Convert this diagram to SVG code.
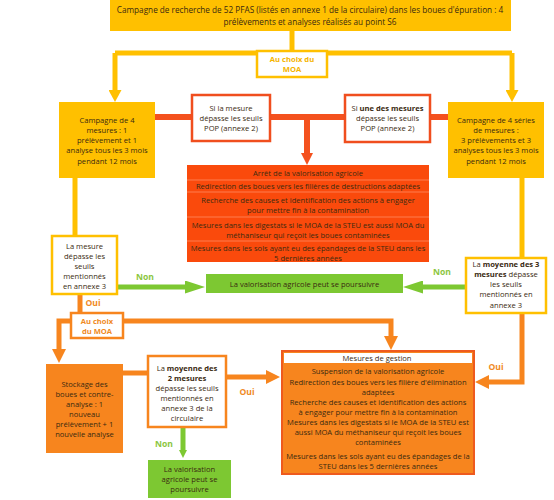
<svg xmlns="http://www.w3.org/2000/svg" width="554" height="500" viewBox="0 0 554 500">
<style>
text{font-family:"Open Sans","Noto Sans",sans-serif;font-size:7.6px;fill:#3a2a10;text-anchor:middle}
.b{font-weight:bold}
.t{font-size:8.2px}
.gold{fill:#FFC000}
.redf{fill:#FA4A0C}
.orf{fill:#F7851E}
.grf{fill:#7DC832}
.wg{fill:#fff;stroke:#FFC000;stroke-width:2.5}
.wr{fill:#fff;stroke:#F04E1E;stroke-width:2.5}
.wo{fill:#fff;stroke:#F7851E;stroke-width:2.5}
.lg{fill:#F5B400;font-weight:bold}
.lo{fill:#F08A24;font-weight:bold}
.ln{fill:#8CC63F;font-weight:bold}
.lab{font-size:8.6px}
.cg{fill:none;stroke:#FFC000;stroke-width:5}
.cr{fill:none;stroke:#F4511E;stroke-width:6}
.co{fill:none;stroke:#F7851E;stroke-width:5}
.cn{fill:none;stroke:#7DC832;stroke-width:5}
.sep{stroke:#FF8A60;stroke-width:0.8}
</style>
<defs>
<marker id="ag" viewBox="0 0 12 13" markerWidth="12" markerHeight="13" markerUnits="userSpaceOnUse" refX="1" refY="6.5" orient="auto"><path d="M0,0 L12,6.5 L0,13 z" fill="#FFC000"/></marker>
<marker id="ar" viewBox="0 0 12 12" markerWidth="12" markerHeight="12" markerUnits="userSpaceOnUse" refX="1" refY="6" orient="auto"><path d="M0,0 L12,6 L0,12 z" fill="#F4511E"/></marker>
<marker id="ao" viewBox="0 0 14 14" markerWidth="14" markerHeight="14" markerUnits="userSpaceOnUse" refX="1" refY="7" orient="auto"><path d="M0,0 L14,7 L0,14 z" fill="#F7851E"/></marker>
<marker id="an" viewBox="0 0 20 13" markerWidth="20" markerHeight="13" markerUnits="userSpaceOnUse" refX="1" refY="6.5" orient="auto"><path d="M0,0 L20,6.5 L0,13 z" fill="#7DC832"/></marker>
<marker id="ans" viewBox="0 0 8 8" markerWidth="8" markerHeight="8" markerUnits="userSpaceOnUse" refX="1" refY="4" orient="auto"><path d="M0,0 L8,4 L0,8 z" fill="#7DC832"/></marker>
</defs>

<g id="connectors">
<path class="cg" d="M292,31 V53"/>
<path class="cg" d="M115,53 H512"/>
<path class="cg" d="M115,53 V91" marker-end="url(#ag)"/>
<path class="cg" d="M512,53 V91" marker-end="url(#ag)"/>
<path class="cg" d="M75,178 V236"/>
<path class="cg" d="M522,178 V258"/>
<path class="cr" d="M155,117 H192"/>
<path class="cr" d="M270,117 H345"/>
<path class="cr" d="M430,117 H448"/>
<path class="cr" d="M307,117 V154" marker-end="url(#ar)"/>
<path class="cn" d="M117,287 H186" marker-end="url(#an)"/>
<path class="cn" d="M466,287 H422" marker-end="url(#an)"/>
<path class="cn" d="M183,427 V451" stroke-width="4" marker-end="url(#ans)"/>
<path class="co" d="M80,294 V313"/>
<path class="co" d="M71,321 H59 V350" marker-end="url(#ao)"/>
<path class="co" d="M123,321 H391 V337" marker-end="url(#ao)"/>
<path class="co" d="M123,373 H148"/>
<path class="co" d="M226,377 H267" marker-end="url(#ao)"/>
<path class="co" d="M522,313 V382 H488" marker-end="url(#ao)"/>
<text class="ln lab" x="145" y="280">Non</text>
<text class="ln lab" x="442" y="275">Non</text>
<text class="ln lab" x="164" y="447">Non</text>
<text class="lo lab" x="93" y="306">Oui</text>
<text class="lo lab" x="247" y="395">Oui</text>
<text class="lo lab" x="496" y="370">Oui</text>
</g>

<g id="top">
<rect class="gold" x="110" y="0" width="401" height="31"/>
<text class="t" x="310" y="13">Campagne de recherche de 52 PFAS (listés en annexe 1 de la circulaire) dans les boues d'épuration : 4</text>
<text class="t" x="310" y="25">prélèvements et analyses réalisés au point S6</text>
</g>

<g id="choix1">
<rect class="wg" x="257" y="51" width="70" height="26"/>
<text class="lg" x="292" y="62">Au choix du</text>
<text class="lg" x="292" y="72">MOA</text>
</g>

<g id="campagne4">
<rect class="gold" x="59" y="102" width="96" height="76"/>
<text x="107" y="123">Campagne de 4</text>
<text x="107" y="133">mesures : 1</text>
<text x="107" y="143">prélèvement et 1</text>
<text x="107" y="153">analyse tous les 3 mois</text>
<text x="107" y="164">pendant 12 mois</text>
</g>

<g id="campagne4series">
<rect class="gold" x="448" y="102" width="96" height="76"/>
<text x="496" y="123">Campagne de 4 séries</text>
<text x="496" y="133">de mesures :</text>
<text x="496" y="143">3 prélèvements et 3</text>
<text x="496" y="153">analyses tous les 3 mois</text>
<text x="496" y="164">pendant 12 mois</text>
</g>

<g id="pop1">
<rect class="wr" x="192" y="95" width="78" height="46"/>
<text x="231" y="111">Si la mesure</text>
<text x="231" y="121">dépasse les seuils</text>
<text x="231" y="131">POP (annexe 2)</text>
</g>

<g id="pop2">
<rect class="wr" x="345" y="95" width="85" height="47"/>
<text x="387.5" y="111">Si <tspan class="b">une des mesures</tspan></text>
<text x="387.5" y="121">dépasse les seuils</text>
<text x="387.5" y="131">POP (annexe 2)</text>
</g>

<g id="arret">
<rect class="redf" x="187" y="165" width="242" height="97"/>
<line class="sep" x1="187" y1="180" x2="429" y2="180"/>
<line class="sep" x1="187" y1="192" x2="429" y2="192"/>
<line class="sep" x1="187" y1="217" x2="429" y2="217"/>
<line class="sep" x1="187" y1="241" x2="429" y2="241"/>
<text x="308" y="176">Arrêt de la valorisation agricole</text>
<text x="308" y="189">Redirection des boues vers les filières de destructions adaptées</text>
<text x="308" y="203">Recherche des causes et identification des actions à engager</text>
<text x="308" y="213">pour mettre fin à la contamination</text>
<text x="308" y="228">Mesures dans les digestats si le MOA de la STEU est aussi MOA du</text>
<text x="308" y="238">méthaniseur qui reçoit les boues contaminées</text>
<text x="308" y="251">Mesures dans les sols ayant eu des épandages de la STEU dans les</text>
<text x="308" y="261">5 dernières années</text>
</g>

<g id="seuil1">
<rect class="wg" x="52" y="236" width="65" height="58"/>
<text x="84.5" y="249">La mesure</text>
<text x="84.5" y="259">dépasse les</text>
<text x="84.5" y="269">seuils</text>
<text x="84.5" y="279">mentionnés</text>
<text x="84.5" y="289">en annexe 3</text>
</g>

<g id="valorisation1">
<rect class="grf" x="206" y="274" width="197" height="19"/>
<text x="304.5" y="286.5">La valorisation agricole peut se poursuivre</text>
</g>

<g id="moyenne3">
<rect class="wg" x="466" y="258" width="80" height="55"/>
<text x="506" y="267"><tspan>La </tspan><tspan class="b">moyenne des 3</tspan></text>
<text x="506" y="277"><tspan class="b">mesures</tspan> dépasse</text>
<text x="506" y="287">les seuils</text>
<text x="506" y="297">mentionnés en</text>
<text x="506" y="308">annexe 3</text>
</g>

<g id="choix2">
<rect class="wo" x="71" y="313" width="52" height="25"/>
<text class="lo" x="97" y="324">Au choix</text>
<text class="lo" x="97" y="334">du MOA</text>
</g>

<g id="stockage">
<rect class="orf" x="46" y="364" width="77" height="89"/>
<text x="84.5" y="387">Stockage des</text>
<text x="84.5" y="397">boues et contre-</text>
<text x="84.5" y="407">analyse : 1</text>
<text x="84.5" y="417">nouveau</text>
<text x="84.5" y="427">prélèvement + 1</text>
<text x="84.5" y="437">nouvelle analyse</text>
</g>

<g id="moyenne2">
<rect class="wo" x="148" y="356" width="78" height="71"/>
<text x="187" y="371">La <tspan class="b">moyenne des</tspan></text>
<text x="187" y="381" class="b">2 mesures</text>
<text x="187" y="391">dépasse les seuils</text>
<text x="187" y="401">mentionnés en</text>
<text x="187" y="411">annexe 3 de la</text>
<text x="187" y="421">circulaire</text>
</g>

<g id="valorisation2">
<rect class="grf" x="148" y="460" width="83" height="38"/>
<text x="189.5" y="472">La valorisation</text>
<text x="189.5" y="482">agricole peut se</text>
<text x="189.5" y="492">poursuivre</text>
</g>

<g id="gestion">
<rect class="orf" x="282" y="351" width="192" height="123" stroke="#EE5A1E" stroke-width="2"/>
<rect x="284" y="353" width="188" height="10" fill="#fff"/>
<text x="377" y="361">Mesures de gestion</text>
<text x="378" y="374">Suspension de la valorisation agricole</text>
<text x="378" y="385">Redirection des boues vers les filière d'élimination</text>
<text x="378" y="395">adaptées</text>
<text x="378" y="405">Recherche des causes et identification des actions</text>
<text x="378" y="415">à engager pour mettre fin à la contamination</text>
<text x="378" y="425">Mesures dans les digestats si le MOA de la STEU est</text>
<text x="378" y="435">aussi MOA du méthaniseur qui reçoit les boues</text>
<text x="378" y="445">contaminées</text>
<text x="378" y="459">Mesures dans les sols ayant eu des épandages de la</text>
<text x="378" y="469">STEU dans les 5 dernières années</text>
</g>
</svg>
